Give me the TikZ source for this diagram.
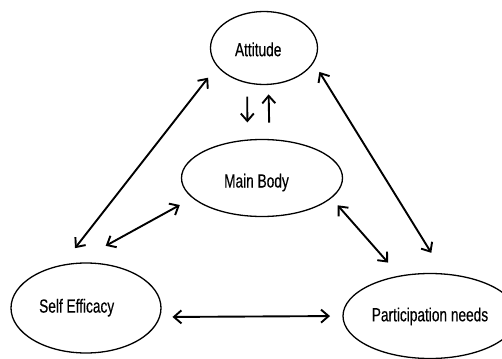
\documentclass[tikz,border=0pt]{standalone}
\usepackage{fontspec}
\newfontfamily\labfont[FakeStretch=0.72,FakeBold=0.35]{Liberation Sans}
\usetikzlibrary{arrows.meta,shapes.geometric}
\begin{document}
\begin{tikzpicture}[x=1pt,y=-1pt,
  oval/.style={draw, ellipse, line width=1.3pt, inner sep=0pt, outer sep=0pt},
  lab/.style={font=\labfont\fontsize{19}{22}\selectfont, inner sep=0pt, text height=13.6pt, text depth=0pt},
  barb/.tip={Straight Barb[length=7.5pt,width=13pt]},
  link/.style={line width=1.9pt, barb-barb},
  single/.style={line width=1.9pt, -barb}]
\useasboundingbox (0,0) rectangle (502,358);
\node[oval, minimum width=107pt, minimum height=73pt,
  label={[lab,xshift=-5.8pt,yshift=-1.4pt]center:Attitude}] (att) at (264,48) {};
\node[oval, minimum width=161pt, minimum height=77pt,
  label={[lab,xshift=-5.5pt,yshift=-2.7pt]center:Main Body}] (mb) at (262,178) {};
\node[oval, minimum width=150pt, minimum height=90pt,
  label={[lab,xshift=-9.3pt,yshift=2.2pt]center:Self Efficacy}] (se) at (86,308) {};
\node[oval, minimum width=174pt, minimum height=85pt,
  label={[lab,yshift=1.5pt]center:Participation needs}] (part) at (430,316) {};
\draw[link, shorten <=15pt, shorten >=22pt] (att.201.4) -- (se.120.2);
\draw[link, shorten <=15pt, shorten >=37pt] (mb.196) -- (se.106.9);
\draw[link, shorten <=11.5pt, shorten >=25pt] (att.344) -- (part.71.1);
\draw[link, shorten <=10pt, shorten >=18pt] (mb.344) -- (part.127.3);
\draw[link, shorten <=13pt, shorten >=13pt] (se.353.8) -- (part.180);
\draw[single, shorten <=14pt, shorten >=17.7pt] (att.244.2) -- (mb.111.9);
\draw[single, shorten <=17pt, shorten >=10pt] (mb.79.5) -- (att.277.7);
\end{tikzpicture}
\end{document}
